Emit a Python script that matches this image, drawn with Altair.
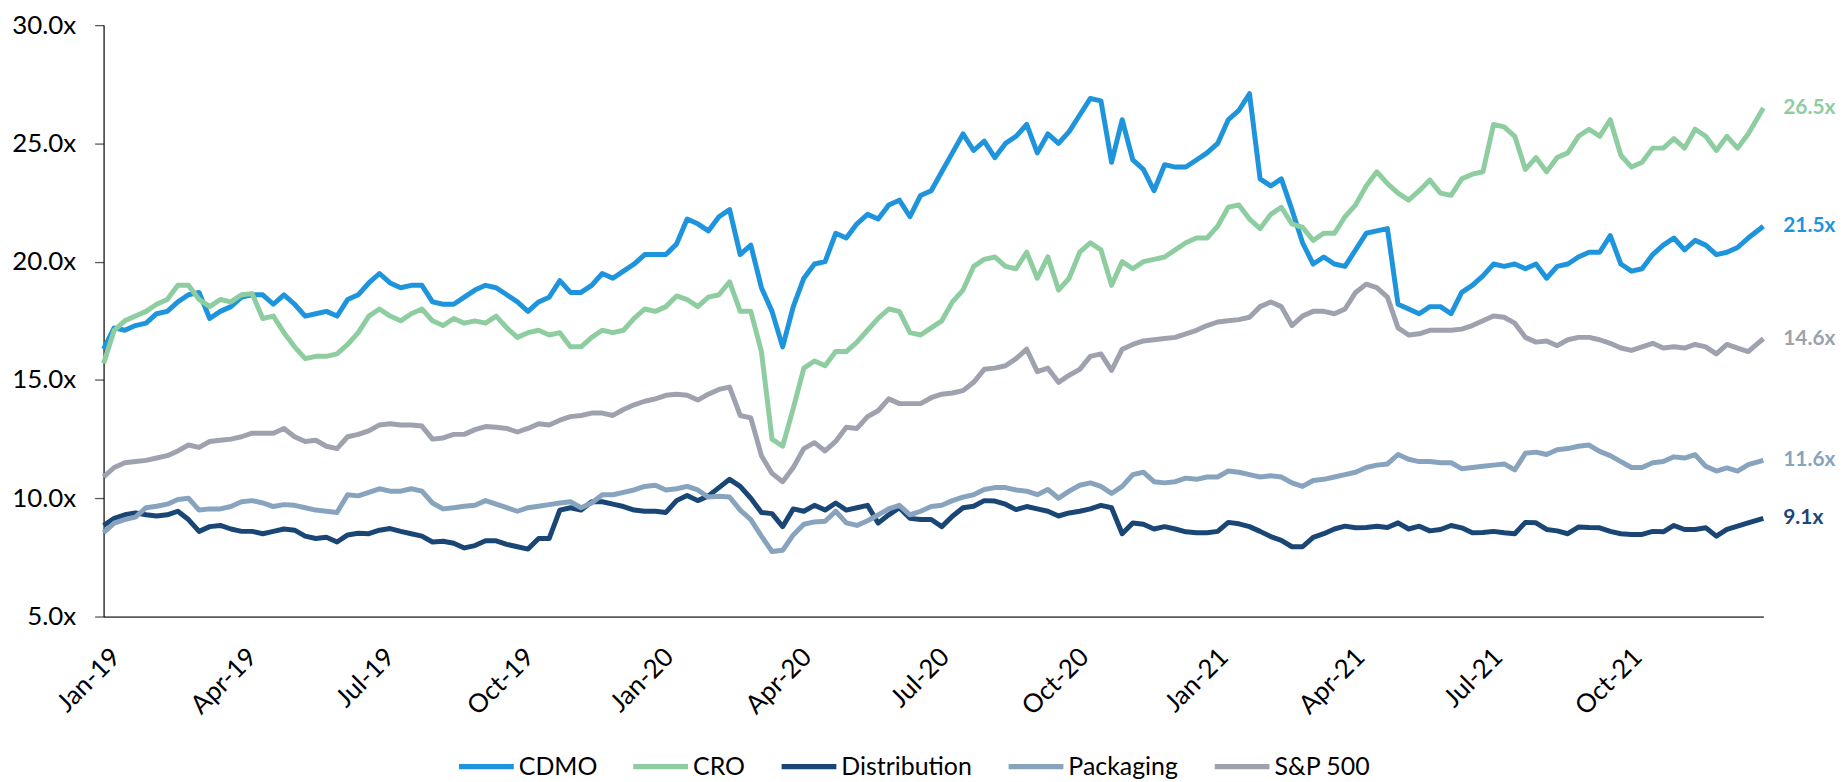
import altair as alt
import pandas as pd

# ---------------- data ----------------
series_names = ["CDMO", "CRO", "Distribution", "Packaging", "S&P 500"]
series_colors = ["#1E94DC", "#8ECDA0", "#1A4676", "#87A3BE", "#9EA1AE"]
end_labels = ["21.5x", "26.5x", "9.1x", "11.6x", "14.6x"]

# weekly observation dates (Tuesdays from 1 Jan 2019), last observation 31 Dec 2021
dates = list(pd.date_range("2019-01-01", periods=156, freq="7D")) + [pd.Timestamp("2021-12-31")]

cdmo = [
    16.3, 17.2, 17.1, 17.3, 17.4, 17.8, 17.9, 18.3, 18.6, 18.7,
    17.6, 17.9, 18.1, 18.5, 18.6, 18.6, 18.2, 18.6, 18.2, 17.7,
    17.8, 17.9, 17.7, 18.4, 18.6, 19.1, 19.5, 19.1, 18.9, 19.0,
    19.0, 18.3, 18.2, 18.2, 18.5, 18.8, 19.0, 18.9, 18.6, 18.3,
    17.9, 18.3, 18.5, 19.2, 18.7, 18.7, 19.0,
    19.5, 19.3, 19.6, 19.9, 20.3, 20.3, 20.3, 20.75, 21.8, 21.6,
    21.3, 21.9, 22.2, 20.3, 20.7, 18.9, 17.9, 16.4, 18.1, 19.3,
    19.9, 20.0, 21.2, 21.0, 21.6, 22.0, 21.8, 22.4, 22.6, 21.9,
    22.8, 23.0, 23.8, 24.6, 25.4, 24.7, 25.1, 24.4, 25.0, 25.3,
    25.8, 24.6, 25.4, 25.0, 25.5, 26.2, 26.9, 26.8, 24.2, 26.0,
    24.3, 23.9, 23.0, 24.1, 24.0, 24.0,
    24.3, 24.6, 25.0, 26.0, 26.4, 27.1, 23.5, 23.2, 23.5, 22.2,
    20.8, 19.9, 20.2, 19.9, 19.8, 20.5, 21.2, 21.3, 21.4, 18.2,
    18.0, 17.8, 18.1, 18.1, 17.8, 18.7, 19.0, 19.4, 19.9, 19.8,
    19.9, 19.7, 19.9, 19.3, 19.8, 19.9, 20.2, 20.4, 20.4, 21.1,
    19.9, 19.6, 19.7, 20.3, 20.7, 21.0, 20.5, 20.9, 20.7, 20.3,
    20.4, 20.6, 21.0, 21.5,
]

cro = [
    15.7, 17.1, 17.5, 17.7, 17.9, 18.2, 18.4, 19.0, 19.0, 18.4,
    18.1, 18.4, 18.3, 18.6, 18.65, 17.6, 17.7, 17.0, 16.4, 15.9,
    16.0, 16.0, 16.1, 16.5, 17.0, 17.7, 18.0, 17.7, 17.5, 17.8,
    18.0, 17.5, 17.3, 17.6, 17.4, 17.5, 17.4, 17.7, 17.2, 16.8,
    17.0, 17.1, 16.9, 17.0, 16.4, 16.4, 16.8,
    17.1, 17.0, 17.1, 17.6, 18.0, 17.9, 18.1, 18.55, 18.4, 18.1,
    18.5, 18.6, 19.15, 17.9, 17.9, 16.2, 12.5, 12.2, 13.8, 15.5,
    15.8, 15.6, 16.2, 16.2, 16.6, 17.1, 17.6, 18.0, 17.9, 17.0,
    16.9, 17.2, 17.5, 18.3, 18.8, 19.8, 20.1, 20.2, 19.8, 19.7,
    20.4, 19.3, 20.2, 18.8, 19.3, 20.4, 20.8, 20.5, 19.0, 20.0,
    19.7, 20.0, 20.1, 20.2, 20.5, 20.8,
    21.0, 21.0, 21.5, 22.3, 22.4, 21.8, 21.4, 22.0, 22.3, 21.6,
    21.45, 20.9, 21.2, 21.2, 21.9, 22.4, 23.2, 23.8, 23.3, 22.9,
    22.6, 23.0, 23.45, 22.9, 22.8, 23.5, 23.7, 23.8, 25.8, 25.7,
    25.3, 23.9, 24.4, 23.8, 24.4, 24.6, 25.3, 25.6, 25.3, 26.0,
    24.5, 24.0, 24.2, 24.8, 24.8, 25.2, 24.8, 25.6, 25.3, 24.7,
    25.3, 24.8, 25.4, 26.5,
]

distribution = [
    8.85, 9.15, 9.3, 9.38, 9.3, 9.25, 9.3, 9.45, 9.1, 8.6,
    8.8, 8.85, 8.7, 8.6, 8.6, 8.5, 8.6, 8.7, 8.65, 8.4,
    8.3, 8.35, 8.15, 8.45, 8.52, 8.5, 8.65, 8.72, 8.6, 8.5,
    8.4, 8.15, 8.18, 8.1, 7.9, 8.0, 8.2, 8.2, 8.05, 7.95,
    7.85, 8.3, 8.3, 9.5, 9.6, 9.5, 9.85,
    9.85, 9.75, 9.65, 9.5, 9.45, 9.45, 9.4, 9.9, 10.12, 9.9,
    10.1, 10.45, 10.8, 10.5, 10.0, 9.4, 9.35, 8.8, 9.55, 9.45,
    9.7, 9.5, 9.8, 9.5, 9.6, 9.7, 8.95, 9.3, 9.6, 9.15,
    9.1, 9.1, 8.8, 9.24, 9.6, 9.66, 9.9, 9.88, 9.75, 9.52,
    9.65, 9.55, 9.45, 9.25, 9.38, 9.45, 9.55, 9.7, 9.6, 8.5,
    8.95, 8.9, 8.7, 8.8, 8.7, 8.58,
    8.54, 8.54, 8.6, 8.98, 8.92, 8.8, 8.6, 8.38, 8.22, 7.95,
    7.95, 8.35, 8.5, 8.7, 8.82, 8.75, 8.76, 8.82, 8.76, 8.96,
    8.7, 8.82, 8.62, 8.68, 8.85, 8.75, 8.54, 8.55, 8.6, 8.54,
    8.5, 8.98, 8.96, 8.68, 8.62, 8.5, 8.78, 8.76, 8.75, 8.6,
    8.5, 8.47, 8.47, 8.6, 8.58, 8.85, 8.68, 8.68, 8.75, 8.4,
    8.68, 8.82, 8.96, 9.15,
]

packaging = [
    8.55, 8.95, 9.1, 9.2, 9.6, 9.66, 9.75, 9.95, 10.0, 9.5,
    9.55, 9.55, 9.65, 9.85, 9.9, 9.8, 9.65, 9.73, 9.7, 9.6,
    9.5, 9.45, 9.4, 10.15, 10.1, 10.25, 10.4, 10.3, 10.3, 10.4,
    10.3, 9.8, 9.55, 9.6, 9.66, 9.7, 9.9, 9.75, 9.6, 9.45,
    9.6, 9.66, 9.73, 9.8, 9.85, 9.6, 9.8,
    10.15, 10.15, 10.25, 10.35, 10.5, 10.55, 10.35, 10.4, 10.5, 10.35,
    10.05, 10.08, 10.05, 9.5, 9.1, 8.4, 7.75, 7.8, 8.45, 8.9,
    9.0, 9.03, 9.45, 8.96, 8.85, 9.05, 9.3, 9.55, 9.7, 9.3,
    9.45, 9.65, 9.7, 9.9, 10.05, 10.15, 10.37, 10.45, 10.45, 10.35,
    10.3, 10.15, 10.37, 10.0, 10.3, 10.55, 10.65, 10.5, 10.2, 10.5,
    11.0, 11.1, 10.7, 10.65, 10.7, 10.85,
    10.8, 10.9, 10.9, 11.15, 11.1, 11.0, 10.9, 10.95, 10.9, 10.65,
    10.5, 10.75, 10.8, 10.9, 11.0, 11.1, 11.3, 11.4, 11.45, 11.85,
    11.65, 11.55, 11.55, 11.5, 11.5, 11.25, 11.3, 11.35, 11.4, 11.45,
    11.2, 11.9, 11.95, 11.85, 12.05, 12.1, 12.2, 12.25, 11.98, 11.8,
    11.55, 11.3, 11.3, 11.5, 11.55, 11.75, 11.7, 11.84, 11.35, 11.15,
    11.28, 11.15, 11.42, 11.6,
]

sp500 = [
    10.9, 11.3, 11.5, 11.55, 11.6, 11.7, 11.8, 12.0, 12.25, 12.15,
    12.4, 12.45, 12.5, 12.6, 12.75, 12.75, 12.75, 12.95, 12.6, 12.4,
    12.45, 12.2, 12.1, 12.6, 12.7, 12.85, 13.1, 13.15, 13.1, 13.1,
    13.05, 12.5, 12.55, 12.7, 12.7, 12.9, 13.03, 13.0, 12.95, 12.8,
    12.95, 13.15, 13.1, 13.3, 13.45, 13.5, 13.6,
    13.6, 13.5, 13.75, 13.95, 14.1, 14.2, 14.35, 14.4, 14.35, 14.15,
    14.4, 14.6, 14.7, 13.5, 13.4, 11.8, 11.05, 10.7, 11.3, 12.1,
    12.35, 12.0, 12.4, 13.0, 12.95, 13.45, 13.7, 14.2, 14.0, 14.0,
    14.0, 14.25, 14.4, 14.45, 14.55, 14.9, 15.45, 15.5, 15.6, 15.9,
    16.3, 15.35, 15.5, 14.9, 15.2, 15.45, 16.0, 16.1, 15.4, 16.3,
    16.5, 16.65, 16.7, 16.75, 16.8, 16.95,
    17.1, 17.3, 17.45, 17.5, 17.55, 17.65, 18.1, 18.3, 18.1, 17.3,
    17.7, 17.9, 17.9, 17.8, 18.0, 18.7, 19.05, 18.9, 18.5, 17.2,
    16.9, 16.95, 17.1, 17.1, 17.1, 17.15, 17.3, 17.5, 17.7, 17.65,
    17.4, 16.8, 16.6, 16.65, 16.45, 16.7, 16.8, 16.8, 16.7, 16.55,
    16.35, 16.25, 16.4, 16.55, 16.35, 16.4, 16.35, 16.5, 16.4, 16.1,
    16.5, 16.35, 16.2, 16.75,
]

series_values = [cdmo, cro, distribution, packaging, sp500]

rows = []
for name, vals in zip(series_names, series_values):
    for d, v in zip(dates, vals):
        rows.append({"date": d, "series": name, "value": v})
df = pd.DataFrame(rows)

labels_df = pd.DataFrame({
    "date": [dates[-1]] * len(series_names),
    "series": series_names,
    "value": [vals[-1] for vals in series_values],
    "label": end_labels,
})

tick_dates = [alt.DateTime(year=y, month=m, date=1)
              for y in (2019, 2020, 2021) for m in (1, 4, 7, 10)]

FONT = "Lato"

color_scale = alt.Scale(domain=series_names, range=series_colors)

x_enc = alt.X(
    "date:T",
    scale=alt.Scale(nice=False),
    axis=alt.Axis(
        values=tick_dates, format="%b-%y", labelAngle=-45,
        labelAlign="right", labelBaseline="top", labelPadding=27, labelOffset=3,
        labelFont=FONT, labelFontSize=26, labelColor="#000000",
        labelOverlap=False, labelFlush=False, ticks=False, grid=False,
        domainColor="#595959", domainWidth=1.8, title=None,
    ),
)
y_enc = alt.Y(
    "value:Q",
    scale=alt.Scale(domain=[5, 30], nice=False, zero=False),
    axis=alt.Axis(
        values=[5, 10, 15, 20, 25, 30],
        labelExpr="format(datum.value, '.1f') + 'x'",
        labelFont=FONT, labelFontSize=26, labelColor="#000000", labelPadding=19,
        tickSize=9, tickColor="#595959", tickWidth=1.3,
        domainColor="#000000", domainWidth=1.2, grid=False, title=None,
    ),
)

lines = alt.Chart(df).mark_line(strokeWidth=5, strokeJoin="round").encode(
    x=x_enc,
    y=y_enc,
    color=alt.Color(
        "series:N", scale=color_scale,
        legend=alt.Legend(
            orient="none", legendX=354, legendY=714, direction="horizontal",
            columns=5, title=None, symbolType="stroke", symbolSize=3025,
            symbolStrokeWidth=5.5, labelFont=FONT, labelFontSize=25,
            labelColor="#000000", labelOffset=2, columnPadding=25,
            padding=0, labelLimit=0,
        ),
    ),
)

labels = alt.Chart(labels_df).mark_text(
    align="left", baseline="middle", dx=20, font=FONT, fontSize=21, fontWeight="bold"
).encode(
    x="date:T",
    y="value:Q",
    text="label:N",
    color=alt.Color("series:N", scale=color_scale, legend=None),
)

chart = alt.layer(lines, labels).properties(
    width=1667,
    height=594,
    autosize=alt.AutoSizeParams(type="none"),
    padding={"left": 96, "top": 15.5, "right": 77, "bottom": 164.5},
    background="white",
).configure_view(stroke=None)

chart.save("out.html", embed_options={"renderer": "svg", "actions": False})
